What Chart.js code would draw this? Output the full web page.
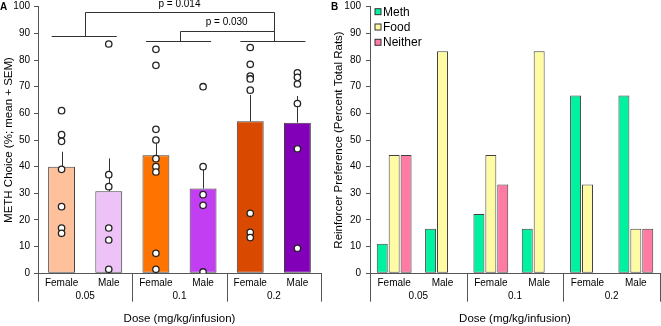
<!DOCTYPE html>
<html><head><meta charset="utf-8">
<script src="https://cdn.jsdelivr.net/npm/chart.js@4.4.1/dist/chart.umd.min.js"></script>
<style>
html,body{margin:0;padding:0;background:#fff;}
#wrap{position:relative;width:661px;height:326px;overflow:hidden;}
#cA{position:absolute;left:0;top:0;}
#cB{position:absolute;left:330px;top:0;}
</style></head><body>
<div id="wrap">
<canvas id="cA" width="330" height="326"></canvas>
<canvas id="cB" width="331" height="326"></canvas>
</div>
<script>
// ---------- DATA ----------
const sexLabels = ['Female', 'Male', 'Female', 'Male', 'Female', 'Male'];
const doseLabels = ['0.05', '0.1', '0.2'];
const xTitle = 'Dose (mg/kg/infusion)';
const yTitleA = 'METH Choice (%; mean + SEM)';
const yTitleB = 'Reinforcer Preference (Percent Total Rats)';

// Panel A: mean and SEM of METH choice (%)
const methChoiceMean = [40.0, 30.8, 44.3, 31.8, 57.0, 56.5];
const methChoiceSem  = [5.6, 12.3, 6.2, 8.5, 9.9, 10.0];
// Panel A: individual rats
const ptsFemale005 = [61, 52, 49.5, 39, 25, 17, 15];
const ptsMale005   = [86, 37, 32.5, 17, 12.5, 1.5];
const ptsFemale01  = [84, 78, 54, 50, 43, 40, 38, 7.5, 1.5];
const ptsMale01    = [70, 40, 29.5, 25.5, 0.5];
const ptsFemale02  = [84.7, 78.4, 74, 72.9, 68.7, 22.5, 15.4, 13.4];
const ptsMale02    = [75.2, 73.5, 71, 63.7, 46.7, 9.4];
const pValues = ['p = 0.014', 'p = 0.030'];

// Panel B: reinforcer preference (% of rats)
const prefSeries = ['Meth', 'Food', 'Neither'];
const prefMeth    = [11.1, 16.7, 22.2, 16.7, 66.7, 66.7];
const prefFood    = [44.4, 83.3, 44.4, 83.3, 33.3, 16.7];
const prefNeither = [44.4, 0, 33.3, 0, 0, 16.7];

// unique category keys (dose + sex); ticks show the sex label
const catKeys = sexLabels.map((s, i) => doseLabels[Math.floor(i / 2)] + ' ' + s);

// ---------- STYLE ----------
const FONT = "'Liberation Sans', Arial, Helvetica, sans-serif";
Chart.defaults.font.family = FONT;
Chart.defaults.color = '#000';
const axisColor = '#555';
const barColorsA = ['#FFC09C', '#ECC2F7', '#FF7300', '#C23EF2', '#D94A00', '#8200B8'];
const prefColors = ['#00F2A0', '#FFFBA5', '#FF7BA3'];

function yAxis(title, width, pad) {
  return {
    min: 0, max: 100,
    ticks: { stepSize: 10, font: { size: 10 }, color: '#000', padding: pad },
    grid: { display: true, drawOnChartArea: false, drawTicks: true, tickLength: 4, color: axisColor },
    border: { display: true, color: axisColor, width: 1 },
    title: { display: true, text: title, font: { size: 11.5 }, color: '#000', padding: { top: 2, bottom: 0 } },
    afterFit(s) { s.width = width; s.paddingTop = 0; s.paddingBottom = 0; }
  };
}
function xAxis() {
  return {
    type: 'category', offset: true,
    grid: { display: false, drawTicks: false },
    border: { display: true, color: axisColor, width: 1 },
    ticks: { font: { size: 10 }, color: '#000', padding: 4, maxRotation: 0, autoSkip: false,
             callback: (v, i) => sexLabels[i] },
    title: { display: true, text: xTitle, font: { size: 11.5 }, color: '#000', padding: { top: 0, bottom: 0 } },
    afterFit(s) { s.height = 52.7; s.paddingLeft = 0; s.paddingRight = 0; }
  };
}
// pixel for a fractional category position
function catX(xs, v) {
  const step = (xs.right - xs.left) / sexLabels.length;
  return xs.left + (v + 0.5) * step;
}

// group labels + separators under the x axis
function groupPlugin(letter) {
  return {
    id: 'groups' + letter,
    afterDraw(chart) {
      const ctx = chart.ctx, xs = chart.scales.x, area = chart.chartArea;
      ctx.save();
      ctx.strokeStyle = axisColor; ctx.lineWidth = 1;
      for (let g = 0; g <= doseLabels.length; g++) {
        const px = Math.round(catX(xs, 2 * g - 0.5)) + 0.5;
        ctx.beginPath(); ctx.moveTo(px, area.bottom); ctx.lineTo(px, area.bottom + 28.4); ctx.stroke();
      }
      ctx.fillStyle = '#000'; ctx.font = '10px ' + FONT;
      ctx.textAlign = 'center'; ctx.textBaseline = 'middle';
      doseLabels.forEach((lab, g) => ctx.fillText(lab, catX(xs, 2 * g + 0.5), area.bottom + 23.4));
      ctx.font = 'bold 10px ' + FONT; ctx.textAlign = 'left'; ctx.textBaseline = 'top';
      ctx.fillText(letter, letter === 'A' ? 0 : 1, 2);
      ctx.restore();
    }
  };
}

// ---------- PANEL A ----------
const indivPoints = [ptsFemale005, ptsMale005, ptsFemale01, ptsMale01, ptsFemale02, ptsMale02];
const scatterData = indivPoints.flatMap((arr, i) => arr.map(v => ({ x: catKeys[i], y: v })));

const errorBarPlugin = {
  id: 'errorBars',
  afterDatasetDraw(chart, args) {
    if (args.index !== 0) return;
    const ctx = chart.ctx, ys = chart.scales.y;
    ctx.save();
    ctx.strokeStyle = '#333'; ctx.lineWidth = 1;
    args.meta.data.forEach((el, i) => {
      const x = Math.round(el.x) + 0.5;
      const y0 = ys.getPixelForValue(methChoiceMean[i]);
      const y1 = ys.getPixelForValue(methChoiceMean[i] + methChoiceSem[i]);
      ctx.beginPath(); ctx.moveTo(x, y0); ctx.lineTo(x, y1); ctx.stroke();
    });
    ctx.restore();
  }
};

const bracketPlugin = {
  id: 'brackets',
  afterDraw(chart) {
    const ctx = chart.ctx, xs = chart.scales.x, ys = chart.scales.y;
    const X = v => catX(xs, v), Xr = v => Math.round(catX(xs, v)) + 0.5;
    const Y = v => Math.round(ys.getPixelForValue(v)) + 0.5;
    const levels = [89, 87.3, 87.3];
    ctx.save();
    ctx.strokeStyle = '#333'; ctx.lineWidth = 1;
    const line = (x0, y0, x1, y1) => { ctx.beginPath(); ctx.moveTo(x0, y0); ctx.lineTo(x1, y1); ctx.stroke(); };
    levels.forEach((lv, g) => line(X(2 * g - 0.21), Y(lv), X(2 * g + 1.17), Y(lv)));
    // 0.05 vs 0.2
    line(Xr(0.5), Y(levels[0]), Xr(0.5), Y(98));
    line(Xr(0.5), Y(98), Xr(4.5), Y(98));
    line(Xr(4.5), Y(levels[2]), Xr(4.5), Y(98));
    // 0.1 vs 0.2
    line(Xr(2.5), Y(levels[1]), Xr(2.5), Y(91));
    line(Xr(2.5), Y(91), Xr(4.5), Y(91));
    ctx.fillStyle = '#000'; ctx.font = '10px ' + FONT;
    ctx.textAlign = 'center'; ctx.textBaseline = 'middle';
    ctx.fillText(pValues[0], X(2.5), ys.getPixelForValue(100.8));
    ctx.fillText(pValues[1], X(3.5), ys.getPixelForValue(94));
    ctx.restore();
  }
};

new Chart(document.getElementById('cA'), {
  type: 'bar',
  data: {
    labels: catKeys,
    datasets: [
      { type: 'bar', data: methChoiceMean, backgroundColor: barColorsA, borderColor: '#404040',
        borderWidth: 1, borderSkipped: false, categoryPercentage: 1, barPercentage: 0.57, order: 2 },
      { type: 'scatter', data: scatterData, pointStyle: 'circle', pointRadius: 3.2,
        pointBackgroundColor: '#fff', pointBorderColor: '#222', pointBorderWidth: 1.3, order: 1 }
    ]
  },
  options: {
    responsive: false, animation: false,
    layout: { padding: { left: 0, right: 9, top: 6.7, bottom: 0 } },
    scales: { x: xAxis(), y: yAxis(yTitleA, 38, 4) },
    plugins: { legend: { display: false }, tooltip: { enabled: false } }
  },
  plugins: [errorBarPlugin, bracketPlugin, groupPlugin('A')]
});

// ---------- PANEL B ----------
const legendPlugin = {
  id: 'legendB',
  afterDraw(chart) {
    const ctx = chart.ctx, area = chart.chartArea;
    ctx.save();
    ctx.font = '12px ' + FONT; ctx.textBaseline = 'middle'; ctx.textAlign = 'left';
    chart.data.datasets.forEach((ds, i) => {
      const y = 11.7 + i * 15.3;
      const x = area.left + 5;
      ctx.fillStyle = ds.backgroundColor; ctx.fillRect(x, y - 3, 6, 6);
      ctx.strokeStyle = '#333'; ctx.lineWidth = 1; ctx.strokeRect(x, y - 3, 6, 6);
      ctx.fillStyle = '#000'; ctx.fillText(ds.label, x + 8, y + 0.5);
    });
    ctx.restore();
  }
};

const prefValues = [prefMeth, prefFood, prefNeither];
new Chart(document.getElementById('cB'), {
  type: 'bar',
  data: {
    labels: catKeys,
    datasets: prefSeries.map((name, i) => ({
      label: name, data: prefValues[i], backgroundColor: prefColors[i], borderColor: '#404040',
      borderWidth: 1, borderSkipped: false, categoryPercentage: 0.74, barPercentage: 0.92
    }))
  },
  options: {
    responsive: false, animation: false,
    layout: { padding: { left: 0, right: 1, top: 6.7, bottom: 0 } },
    scales: { x: xAxis(), y: yAxis(yTitleB, 40, 5) },
    plugins: { legend: { display: false }, tooltip: { enabled: false } }
  },
  plugins: [legendPlugin, groupPlugin('B')]
});
</script>
</body></html>
